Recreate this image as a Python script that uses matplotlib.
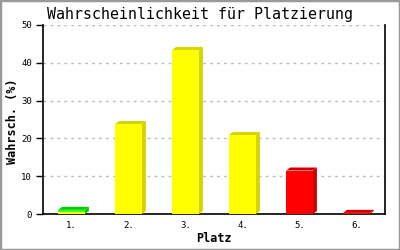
import matplotlib
matplotlib.use("Agg")
import matplotlib.pyplot as plt
from matplotlib.patches import Polygon, Rectangle

categories = ["1.", "2.", "3.", "4.", "5.", "6."]
values = [1.1, 23.8, 43.4, 20.9, 11.5, 0.3]
front_colors = ["#33FF33", "#FFFF00", "#FFFF00", "#FFFF00", "#FF0000", "#FF0000"]
side_colors = ["#00CC00", "#D4D400", "#D4D400", "#D4D400", "#CC0000", "#CC0000"]
base_strip = [0.5, 0, 0, 0, 0, 0]  # yellow strip at bottom of bar 1
yticks = [0, 10, 20, 30, 40, 50]

fig = plt.figure(figsize=(4, 2.5), dpi=100)
fig.patch.set_facecolor("white")
fig.add_artist(Rectangle((0, 0), 1, 1, transform=fig.transFigure, fill=False,
                         edgecolor="#999999", linewidth=2.5))

ax = fig.add_axes([43 / 400, 36 / 250, 342 / 400, 189 / 250])
mono = "DejaVu Sans Mono"

x = list(range(len(values)))
w = 0.47
dx = 4 / 57.0
dy = 0.8

for i, v in enumerate(values):
    x0 = i - w / 2
    x1 = i + w / 2
    ax.add_patch(Polygon([(x1, 0), (x1 + dx, dy), (x1 + dx, v + dy), (x1, v)],
                         closed=True, facecolor=side_colors[i], edgecolor="none", zorder=3))
    ax.add_patch(Polygon([(x0, v), (x0 + dx, v + dy), (x1 + dx, v + dy), (x1, v)],
                         closed=True, facecolor=side_colors[i], edgecolor="none", zorder=3))
ax.bar(x, values, width=w, color=front_colors, zorder=4, linewidth=0)
ax.bar(x, base_strip, width=w, color="#FFFF00", zorder=5, linewidth=0)

ax.set_xlim(-0.5, 5.5)
ax.set_ylim(0, 50)
ax.set_yticks(yticks)
ax.set_yticklabels([str(t) for t in yticks], fontsize=6.5, family=mono)
ax.set_xticks(x)
ax.set_xticklabels(categories, fontsize=6.5, family=mono)
ax.tick_params(axis="x", length=0, pad=5)
ax.tick_params(axis="y", length=5, width=1, direction="out", pad=3)
ax.yaxis.grid(True, color="#BBBBBB", linestyle=(0, (2, 3)), linewidth=1)
ax.set_axisbelow(True)
ax.spines["top"].set_visible(False)
for s in ["left", "right", "bottom"]:
    ax.spines[s].set_linewidth(1.2)
    ax.spines[s].set_color("black")

fig.text(214 / 400, 1 - 239 / 250, "Platz", ha="center", va="center",
         fontsize=8.5, family=mono, fontweight="bold")
fig.text(13 / 400, 1 - 121 / 250, "Wahrsch. (%)", ha="center", va="center",
         rotation=90, fontsize=8.5, family=mono, fontweight="bold")
fig.text(200 / 400, 1 - 14 / 250, "Wahrscheinlichkeit für Platzierung",
         ha="center", va="center", fontsize=10.8, family=mono)

fig.savefig("out.png", dpi=100)
